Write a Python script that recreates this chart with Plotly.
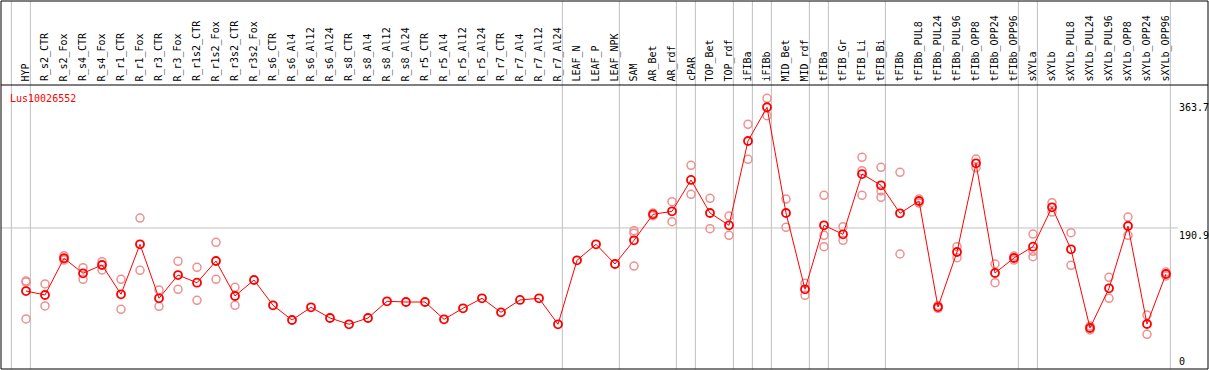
import plotly.graph_objects as go

categories = ["HYP", "R_s2_CTR", "R_s2_Fox", "R_s4_CTR", "R_s4_Fox", "R_r1_CTR", "R_r1_Fox",
              "R_r3_CTR", "R_r3_Fox", "R_r1s2_CTR", "R_r1s2_Fox", "R_r3s2_CTR", "R_r3s2_Fox",
              "R_s6_CTR", "R_s6_Al4", "R_s6_Al12", "R_s6_Al24", "R_s8_CTR", "R_s8_Al4", "R_s8_Al12",
              "R_s8_Al24", "R_r5_CTR", "R_r5_Al4", "R_r5_Al12", "R_r5_Al24", "R_r7_CTR", "R_r7_Al4",
              "R_r7_Al12", "R_r7_Al24", "LEAF_N", "LEAF_P", "LEAF_NPK", "SAM", "AR_Bet", "AR_rdf",
              "cPAR", "TOP_Bet", "TOP_rdf", "iFIBa", "iFIBb", "MID_Bet", "MID_rdf", "tFIBa", "tFIB_Gr",
              "tFIB_Li", "tFIB_Bi", "tFIBb", "tFIBb_PUL8", "tFIBb_PUL24", "tFIBb_PUL96", "tFIBb_OPP8",
              "tFIBb_OPP24", "tFIBb_OPP96", "sXYLa", "sXYLb", "sXYLb_PUL8", "sXYLb_PUL24",
              "sXYLb_PUL96", "sXYLb_OPP8", "sXYLb_OPP24", "sXYLb_OPP96"]

means = [100.6, 94.9, 147.5, 126.0, 137.9, 95.9, 167.5, 90.2, 123.5, 112.5, 143.6, 93.5, 116.4,
         80.2, 59.1, 77.3, 62.0, 53.0, 62.0, 85.9, 84.9, 84.9, 60.1, 75.9, 90.2, 70.1, 87.8, 90.2, 53.0,
         144.6, 167.5, 139.3, 173.2, 210.4, 214.7, 259.6, 212.3, 194.7, 315.4, 363.7, 212.3, 103.1,
         194.7, 181.8, 268.1, 252.0, 211.9, 229.5, 77.7, 156.5, 283.5, 126.4, 147.9, 164.1, 220.5,
         160.3, 47.7, 104.5, 193.7, 53.4, 125.0]

rep1 = [115.0, 110.7, 151.2, 134.0, 142.6, 117.4, 205.1, 102.1, 143.2, 134.6, 170.4, 105.9, None,
        None, None, None, None, None, None, None, None, None, None, None, None, None, None, None, None,
        None, None, None, 187.0, 212.3, 228.5, 280.6, 233.4, 208.0, 339.3, 376.5, 232.3, 111.7,
        237.6, 192.7, 292.0, 277.7, 270.6, 232.3, 79.9, 164.1, 289.6, 139.3, 150.7, 182.2, 227.1,
        184.1, 50.5, 120.3, 206.6, 66.3, 127.8]
rep2 = [113.5, 79.2, 145.0, 117.4, 130.7, 74.4, 130.3, 78.7, 103.1, 87.3, 117.4, 80.2, None,
        None, None, None, None, None, None, None, None, None, None, None, None, None, None, None, None,
        None, None, None, 183.2, 208.5, 199.9, 239.1, 189.8, 180.4, 289.2, 351.6, 191.8, 94.5,
        180.4, 173.2, 272.9, 243.8, 153.6, 226.6, 75.6, 148.3, 277.2, 112.5, 145.0, 157.5, 213.7,
        137.4, 44.8, 90.2, 180.4, 38.7, 122.1]
rep3 = [60.6, None, None, None, None, None, None, None, None, None, None, None, None,
        None, None, None, None, None, None, None, None, None, None, None, None, None, None, None, None,
        None, None, None, 136.4, None, None, None, None, None, None, None, None, None,
        164.1, None, 237.6, 234.8, None, None, None, None, None, None, None, 149.7, None,
        None, None, None, None, None, None]

# last index of each category group (vertical separators)
group_ends = [-1, 0, 28, 31, 34, 35, 37, 38, 39, 41, 42, 45, 52, 53, 60]
ytick_vals = [0, 190.9, 363.7]
gene = "Lus10026552"

W, H = 1209, 370
MONO = "DejaVu Sans Mono"
x = list(range(len(categories)))

rx, ry = [], []
for reps in (rep1, rep2, rep3):
    for i, v in enumerate(reps):
        if v is not None:
            rx.append(i)
            ry.append(v)

fig = go.Figure()
fig.add_trace(go.Scatter(x=rx, y=ry, mode="markers", showlegend=False, hoverinfo="skip",
                         marker=dict(symbol="circle-open", size=8, color="#EE9090",
                                     line=dict(width=1.5, color="#EE9090"))))
fig.add_trace(go.Scatter(x=x, y=means, mode="lines+markers", showlegend=False,
                         line=dict(color="#FF0000", width=1),
                         marker=dict(symbol="circle-open", size=8, color="#FF0000",
                                     line=dict(width=1.8, color="#FF0000"))))

shapes = []
for g in group_ends:
    shapes.append(dict(type="line", xref="x", yref="paper", x0=g + 0.23, x1=g + 0.23, y0=0, y1=1,
                       line=dict(color="#C0C0C0", width=1), layer="below"))
shapes.append(dict(type="line", xref="paper", yref="y", x0=0, x1=0.975, y0=ytick_vals[1], y1=ytick_vals[1],
                   line=dict(color="#C0C0C0", width=1), layer="below"))
header_y = (369 - 85) / 368
shapes.append(dict(type="line", xref="paper", yref="paper", x0=0, x1=1, y0=header_y, y1=header_y,
                   line=dict(color="black", width=1)))
shapes.append(dict(type="rect", xref="paper", yref="paper", x0=0, x1=1, y0=0, y1=1,
                   line=dict(color="black", width=1)))

annotations = []
for i, c in enumerate(categories):
    annotations.append(dict(x=i, y=header_y + 0.004, xref="x", yref="paper", text=c, showarrow=False,
                            textangle=-90, xanchor="center", yanchor="bottom",
                            font=dict(family=MONO, size=10, color="black")))
annotations.append(dict(x=(8 - 1) / 1207, y=(369 - 91) / 368, xref="paper", yref="paper", text=gene,
                        showarrow=False, xanchor="left", yanchor="top",
                        font=dict(family=MONO, size=10, color="#FF0000")))
lab_x = (1177 - 1) / 1207
for v, anch in zip(ytick_vals, ["middle", "top", "middle"]):
    annotations.append(dict(x=lab_x, y=v, xref="paper", yref="y", text=f"{v:g}", showarrow=False,
                            xanchor="left", yanchor=anch,
                            font=dict(family=MONO, size=10, color="black")))

px_per_unit = 0.6985
zero_px = 361.3
top_val = (zero_px - 1) / px_per_unit
bot_val = top_val - 368 / px_per_unit
x_left = -25 / 19
x_right = x_left + 1207 / 19

fig.update_layout(
    width=W, height=H, margin=dict(l=1, r=1, t=1, b=1),
    paper_bgcolor="white", plot_bgcolor="white",
    xaxis=dict(range=[x_left, x_right], showgrid=False, zeroline=False, showticklabels=False,
               ticks="", showline=False),
    yaxis=dict(range=[bot_val, top_val], showgrid=False, zeroline=False, showticklabels=False,
               ticks="", showline=False),
    shapes=shapes, annotations=annotations, showlegend=False,
)
fig.write_html("out.html", config={"displayModeBar": False},
               post_script="document.body.style.margin='0';document.body.style.overflow='hidden';")
